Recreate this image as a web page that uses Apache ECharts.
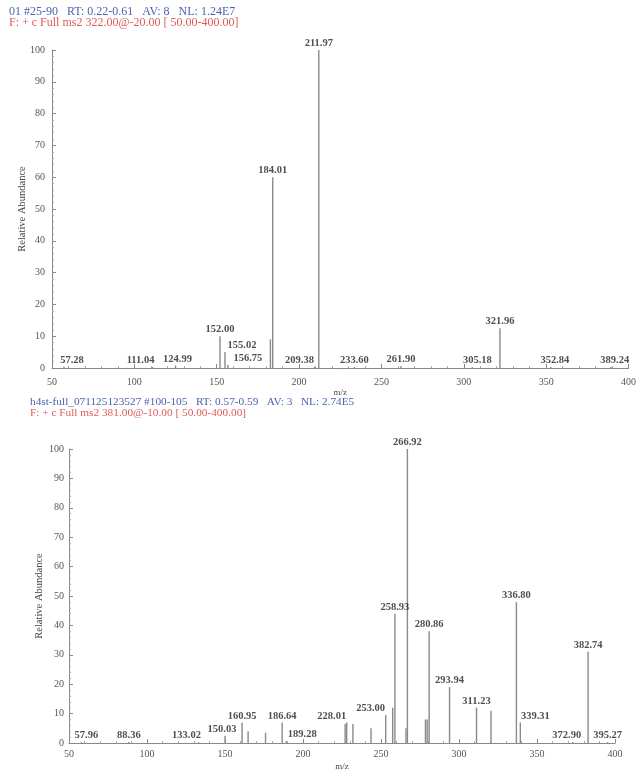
<!DOCTYPE html>
<html><head><meta charset="utf-8">
<script src="https://cdn.jsdelivr.net/npm/echarts@6/dist/echarts.min.js"></script>
<style>html,body{margin:0;padding:0;background:#fff}#c{width:639px;height:772px}</style>
</head><body><div id="c"></div>
<script>
// Spectrum 1 (precursor 322)
const mz1 = [57.28, 111.04, 124.99, 152.00, 155.02, 156.75, 182.6, 184.01, 209.38, 211.97, 233.60, 261.90, 305.18, 321.96, 352.84, 389.24];
const int1 = [0.4, 0.3, 0.8, 10, 5, 1.0, 9, 60, 0.4, 100, 0.3, 0.6, 0.3, 12.5, 0.3, 0.3];
const lab1 = ['57.28','111.04','124.99','152.00','155.02','156.75','','184.01','209.38','211.97','233.60','261.90','305.18','321.96','352.84','389.24'];
// Spectrum 2 (precursor 381)
const mz2 = [57.96, 88.36, 133.02, 150.03, 160.95, 164.8, 176.0, 186.64, 189.28, 227.0, 228.01, 232.0, 243.6, 253.00, 257.5, 258.93, 266.0, 266.92, 278.5, 279.6, 280.86, 293.94, 311.23, 320.5, 336.80, 339.31, 372.90, 382.74, 395.27];
const int2 = [0.3, 0.3, 0.3, 2.5, 7, 4, 3.5, 7, 0.6, 6.5, 7, 6.5, 5, 9.5, 12, 44, 5, 100, 8, 8, 38, 19, 12, 11, 48, 7, 0.3, 31, 0.3];
const lab2 = ['57.96','88.36','133.02','150.03','160.95','','','186.64','189.28','','228.01','','','253.00','','258.93','','266.92','','','280.86','293.94','311.23','','336.80','339.31','372.90','382.74','395.27'];
const xTicks = [50, 100, 150, 200, 250, 300, 350, 400];
const yTicks = [0, 10, 20, 30, 40, 50, 60, 70, 80, 90, 100];

// label nudges (px) to keep crowded annotations apart, as in the instrument printout
const labelNudge = {
  '57.28': 8, '111.04': -12, '124.99': 2, '155.02': 17, '156.75': 20, '209.38': -15,
  '305.18': 5, '352.84': 4, '389.24': 4,
  '57.96': 5, '133.02': -12, '150.03': -3, '189.28': 16, '228.01': -15, '253.00': -15,
  '339.31': 15, '372.90': -6
};

const serif = 'Liberation Serif';
function spikes(mz, it) { return mz.map((m, i) => [m, it[i]]); }
function labels(mz, it, lb) {
  const out = [];
  mz.forEach((m, i) => {
    if (lb[i]) out.push({ value: [m, it[i]], name: lb[i],
      label: { offset: [labelNudge[lb[i]] || 0, 0] } });
  });
  return out;
}
function xAxis(gi, margin, gap) {
  return {
    gridIndex: gi, type: 'value', min: xTicks[0], max: xTicks[xTicks.length - 1], interval: 50,
    name: 'm/z', nameLocation: 'middle', nameGap: gap, nameMoveOverlap: false,
    nameTextStyle: { fontFamily: serif, fontSize: 9, color: '#444' },
    axisLine: { show: true, lineStyle: { color: '#888', width: 1 } },
    axisTick: { show: true, inside: true, length: 4, lineStyle: { color: '#888' } },
    minorTick: { show: true, splitNumber: 5, length: 2, lineStyle: { color: '#aaa' } },
    axisLabel: { fontFamily: serif, fontSize: 10, color: '#555', margin: margin },
    splitLine: { show: false }
  };
}
function yAxis(gi, margin) {
  return {
    gridIndex: gi, type: 'value', min: yTicks[0], max: yTicks[yTicks.length - 1], interval: 10,
    name: 'Relative Abundance', nameLocation: 'middle', nameGap: 24, nameRotate: 90, nameMoveOverlap: false,
    nameTextStyle: { fontFamily: serif, fontSize: 10.5, color: '#444' },
    axisLine: { show: true, lineStyle: { color: '#888', width: 1 } },
    axisTick: { show: true, inside: true, length: 4, lineStyle: { color: '#888' } },
    minorTick: { show: true, splitNumber: 5, length: 2, lineStyle: { color: '#aaa' } },
    axisLabel: { fontFamily: serif, fontSize: 10, color: '#555', margin: margin },
    splitLine: { show: false }
  };
}
function spikeSeries(gi, data) {
  return {
    type: 'custom', xAxisIndex: gi, yAxisIndex: gi, data: data, clip: true,
    renderItem: function (params, api) {
      const p0 = api.coord([api.value(0), 0]);
      const p1 = api.coord([api.value(0), api.value(1)]);
      return { type: 'line', shape: { x1: p0[0], y1: p0[1], x2: p1[0], y2: p1[1] },
        style: { stroke: '#8a8a8a', lineWidth: 1.4 } };
    }
  };
}
function labelSeries(gi, data) {
  return {
    type: 'scatter', xAxisIndex: gi, yAxisIndex: gi, data: data, symbolSize: 0,
    label: { show: true, position: 'top', distance: 1, formatter: p => p.name,
      fontFamily: serif, fontSize: 10.5, fontWeight: 'bold', color: '#222' }
  };
}
const chart = echarts.init(document.getElementById('c'));
chart.setOption({
  backgroundColor: '#fff',
  animation: false,
  grid: [
    { left: 52, right: 9, top: 50, bottom: 404 },
    { left: 69, right: 24, top: 449, bottom: 22 }
  ],
  xAxis: [xAxis(0, 9, 20), xAxis(1, 6, 19)],
  yAxis: [yAxis(0, 7), yAxis(1, 5)],
  series: [
    spikeSeries(0, spikes(mz1, int1)), labelSeries(0, labels(mz1, int1, lab1)),
    spikeSeries(1, spikes(mz2, int2)), labelSeries(1, labels(mz2, int2, lab2))
  ],
  graphic: [
    { type: 'text', left: 9, top: 6, style: { text: '01 #25-90   RT: 0.22-0.61   AV: 8   NL: 1.24E7', fontFamily: serif, fontSize: 12, fill: '#4a63b0' } },
    { type: 'text', left: 9, top: 17, style: { text: 'F: + c Full ms2 322.00@-20.00 [ 50.00-400.00]', fontFamily: serif, fontSize: 12, fill: '#e05a5a' } },
    { type: 'text', left: 30, top: 397, style: { text: 'h4st-full_071125123527 #100-105   RT: 0.57-0.59   AV: 3   NL: 2.74E5', fontFamily: serif, fontSize: 11.3, fill: '#4a63b0' } },
    { type: 'text', left: 30, top: 408, style: { text: 'F: + c Full ms2 381.00@-10.00 [ 50.00-400.00]', fontFamily: serif, fontSize: 11.3, fill: '#e05a5a' } }
  ]
});
</script></body></html>
